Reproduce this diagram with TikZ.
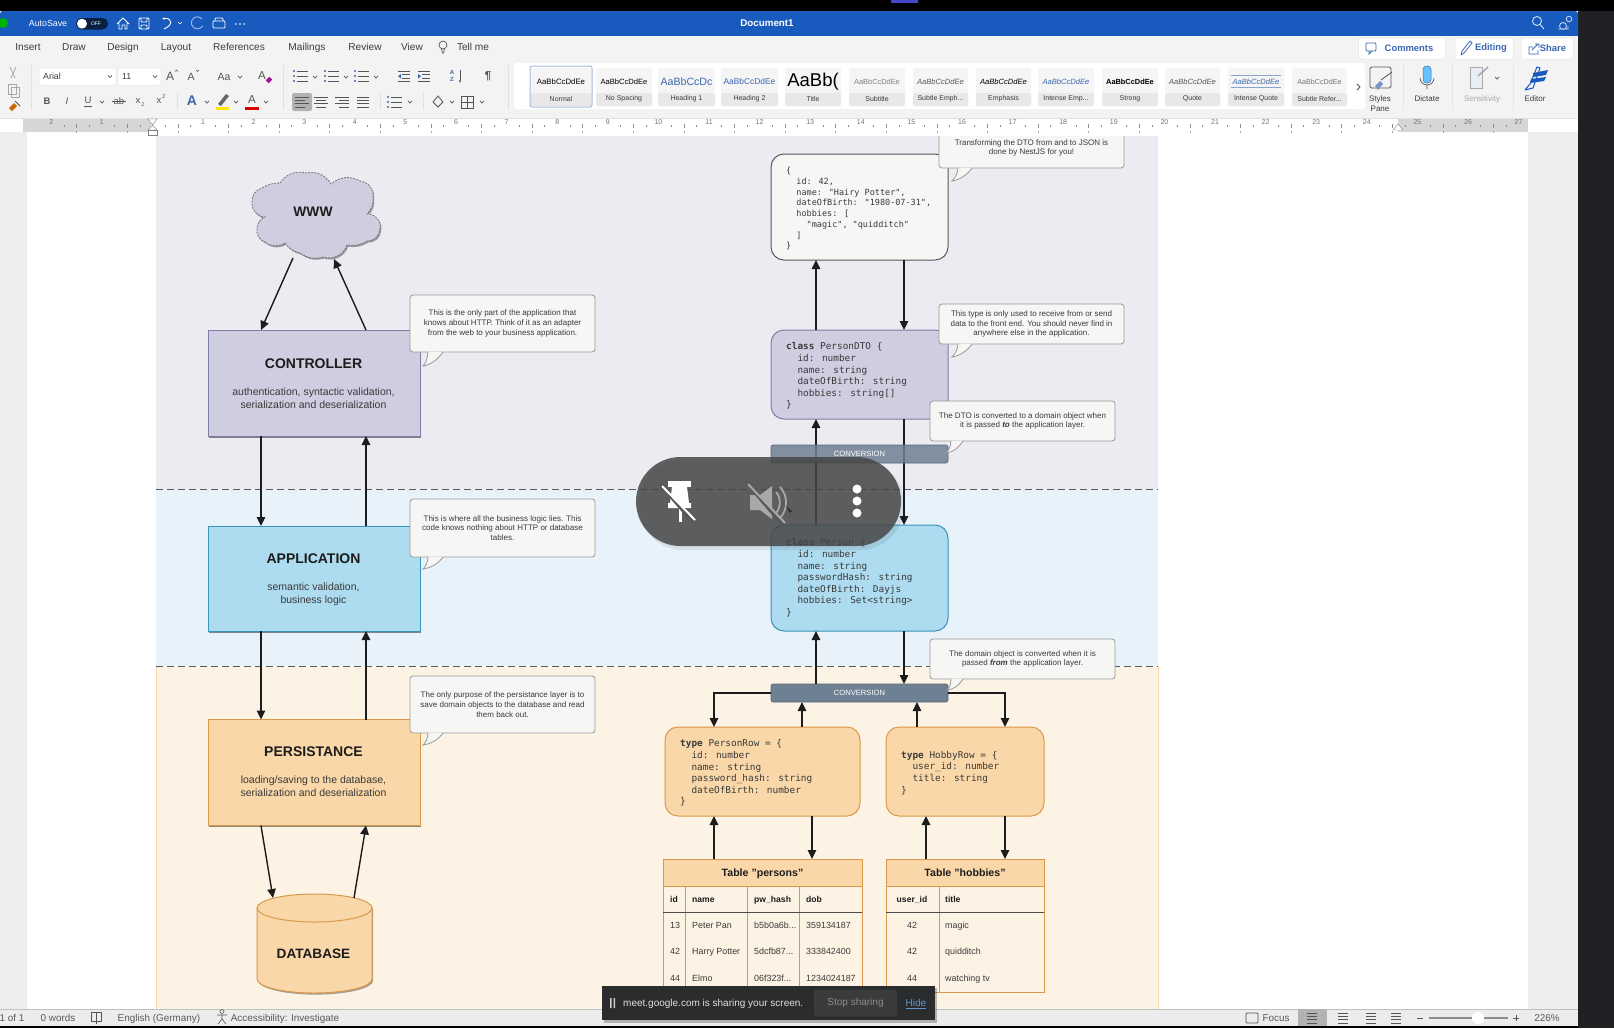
\documentclass[tikz,border=0pt]{standalone}
\usepackage{fontspec}
\setmainfont{Liberation Sans}
\newfontfamily\codefont{DejaVu Sans Mono}
\usetikzlibrary{arrows.meta,shadows,calc}
\definecolor{zoneA}{HTML}{ECEBF1}
\definecolor{zoneB}{HTML}{E7F2FB}
\definecolor{zoneC}{HTML}{FDF3E4}
\definecolor{ctrlF}{HTML}{CFCDE0}
\definecolor{ctrlD}{HTML}{7F7CA8}
\definecolor{appF}{HTML}{ADDBEF}
\definecolor{appD}{HTML}{3A93B8}
\definecolor{perF}{HTML}{F9D7A8}
\definecolor{perD}{HTML}{D9994A}
\definecolor{callF}{HTML}{F6F6F4}
\definecolor{callD}{HTML}{999999}
\definecolor{convF}{HTML}{6E8193}
\definecolor{inkA}{HTML}{1C1C1C}
\definecolor{inkB}{HTML}{3A3A3A}
\definecolor{wordBlue}{HTML}{185ABD}
\definecolor{ribbon}{HTML}{F3F3F3}
\definecolor{uiText}{HTML}{3C3C3C}
\definecolor{uiIcon}{HTML}{555555}
\definecolor{uiDim}{HTML}{A8A8A8}
\definecolor{headBlue}{HTML}{3C68B0}
\definecolor{sideGrey}{HTML}{EDEEEE}
\definecolor{barGrey}{HTML}{ECECEC}
\definecolor{darkSide}{HTML}{202124}
\definecolor{linkBlue}{HTML}{2F6FC4}
\definecolor{topPurple}{HTML}{4644C8}
\definecolor{toastF}{HTML}{2A2C2D}
\definecolor{toastB}{HTML}{393B3C}
\newcommand\fs[2]{\fontsize{#1}{#2}\selectfont}
\newcommand\ind{\hspace*{11.32pt}}
\newcommand\indj{\hspace*{10.24pt}}
% chevron under-arrow at x y
\newcommand\chev[2]{\draw[uiIcon,line width=.7pt] (#1-2,#2-1.2) -- (#1,#2+1.2) -- (#1+2,#2-1.2);}
% list icon
\newcommand\listic[3]{\foreach \k in {-5,0,5}{\fill[#3] (#1-7,#2+\k) circle (1.2);\draw[uiIcon,line width=.8pt] (#1-4,#2+\k) -- (#1+7,#2+\k);}}
% four-line paragraph icon: x y half-widths
\newcommand\alignic[3]{\foreach \k/\w in {-5/#3,-1.7/#3,1.7/#3,5/#3}{\draw[uiIcon,line width=.8pt] (#1-\w,#2+\k) -- (#1+\w,#2+\k);}}
% style gallery tile
\newcommand\stile[6]{%
  \fill[white!96!black,rounded corners=2pt] (#2,68) rectangle (#3,106);
  \fill[black!9,rounded corners=2pt] (#2,93) rectangle (#3,106);
  \begin{scope}\clip (#2+1,68) rectangle (#3-1,93);
  \node[uitext,anchor=center] (#1s) at ({(#2+#3)/2},81.5) {#4#5};
  \end{scope}
  \node[uitext,font=\fs{7}{8}] (#1l) at ({(#2+#3)/2},98.5) {#6};}
\tikzset{
 layerbox/.style={rectangle,inner sep=0,outer sep=0,line width=1pt,drop shadow={shadow xshift=1.2pt,shadow yshift=-1.6pt,opacity=.45,fill=black}},
 codebox/.style={rectangle,rounded corners=13pt,inner sep=0,outer sep=0,line width=1pt},
 callbox/.style={rectangle,rounded corners=3pt,inner sep=0,outer sep=0,line width=.8pt,draw=callD,fill=callF,text=inkB,align=center,font=\fs{8}{9.7},execute at begin node={\rule{0pt}{9.5pt}}},
 convbox/.style={rectangle,rounded corners=2pt,inner sep=0,outer sep=0,draw=convF!80!black,line width=.6pt,fill=convF,text=white,font=\fs{7.6}{9},minimum width=177pt,minimum height=18pt},
 title/.style={font=\bfseries\fs{14}{16},text=inkA,inner sep=0},
 sub/.style={font=\fs{10.5}{13.2},text=inkB,align=center,inner sep=0},
 codetxt/.style={anchor=north west,inner sep=0,align=left,text=inkB,font=\codefont\fs{9.4}{11.6}},
 arr/.style={draw=inkA,line width=1.4pt,-{Triangle[length=9pt,width=8.5pt]}},
 cellb/.style={inner sep=0,yshift=-.8pt,font=\bfseries\fs{8.6}{10},text=inkA,text height=6.5pt,text depth=1.8pt},
 cell/.style={inner sep=0,yshift=-.8pt,font=\fs{8.9}{10},text=inkB,text height=6.5pt,text depth=1.8pt},
 uitext/.style={inner sep=0,text=uiText},
 tabtext/.style={inner sep=0,text=uiText,font=\fs{10.1}{11},text height=7.5pt,text depth=2pt},
 stat/.style={inner sep=0,text=uiText!85,font=\fs{9.9}{11},text height=7.5pt,text depth=2pt},
 rulenum/.style={inner sep=0,text=black!55,font=\fs{7}{8}},
 pillbtn/.style={rectangle,inner sep=0,rounded corners=2pt,fill=white,draw=black!10,line width=.5pt},
 glyph/.style={inner sep=0,text=uiIcon},
}
\begin{document}
\begin{tikzpicture}[x=1pt,y=-1pt]
\useasboundingbox (0,0) rectangle (1614,1028);
% page and zones
\fill[sideGrey] (0,0) rectangle (1578,1028);
\fill[white] (27,132) rectangle (1528,1010);
\fill[zoneA] (156,132) rectangle (1158,489);
\fill[zoneB] (156,489) rectangle (1158,666);
\fill[zoneC] (156,666) rectangle (1158,1010);
\draw[perF,line width=.5pt] (156,666) -- (156,1010) (1158,666) -- (1158,1010);
\draw[black!65,line width=1pt,dash pattern=on 7pt off 4pt] (156,489) -- (1158,489);
\draw[black!65,line width=1pt,dash pattern=on 7pt off 4pt] (156,666) -- (1158,666);
% connector x positions
\coordinate (lx) at (261,0);
\coordinate (rx) at (366,0);
\coordinate (ax) at (816,0);
\coordinate (bx) at (904,0);
\coordinate (plo) at (714,0);
\coordinate (pup) at (802,0);
\coordinate (hup) at (917,0);
\coordinate (hlo) at (1005,0);
\coordinate (tpd) at (812,0);
\coordinate (thu) at (926,0);
\coordinate (wwwOut) at (293,258);
\coordinate (wwwIn) at (334,259);
\coordinate (dbIn) at (273,898);
\coordinate (dbOut) at (354,898);
% cloud
\path[fill=ctrlF,draw=black!55,line width=.8pt,dash pattern=on 2pt off 1.2pt,drop shadow={shadow xshift=1.2pt,shadow yshift=-1.6pt,opacity=.35,fill=black}]
 (280,183) to[bend left=35] (306,173) to[bend left=35] (331,184) to[bend left=35] (360,181)
 to[bend left=45] (373,197) to[bend left=25] (367,214) to[bend left=55] (380,229)
 to[bend left=45] (367,241) to[bend left=20] (347,245) to[bend left=45] (323,257)
 to[bend left=25] (300,253) to[bend left=20] (285,243) to[bend left=35] (265,242)
 to[bend left=40] (257,228) to[bend left=30] (265,217) to[bend left=45] (252,203)
 to[bend left=40] (262,188) to[bend left=15] cycle;
\node[inner sep=0,font=\bfseries\fs{13.8}{16},text=inkA] (www) at (313,211.5) {WWW};
% layer boxes
\node[layerbox,fill=ctrlF,draw=ctrlD,minimum width=212pt,minimum height=106pt] (ctrl) at (314,383) {};
\node[title] (ctrlT) at (313.5,364) {CONTROLLER};
\node[sub] (ctrlS) at (313.5,398.5) {authentication, syntactic validation,\\serialization and deserialization};
\node[layerbox,fill=appF,draw=appD,minimum width=212pt,minimum height=105pt] (app) at (314,578.5) {};
\node[title] (appT) at (313.5,559) {APPLICATION};
\node[sub] (appS) at (313.5,594) {semantic validation,\\business logic};
\node[layerbox,fill=perF,draw=perD,minimum width=212pt,minimum height=106pt] (pers) at (314,772.5) {};
\node[title] (persT) at (313.5,752) {PERSISTANCE};
\node[sub] (persS) at (313.5,786.5) {loading/saving to the database,\\serialization and deserialization};
% database
\path[fill=perF,draw=perD,line width=1pt,drop shadow={shadow xshift=1.2pt,shadow yshift=-1.6pt,opacity=.35,fill=black}]
 (257,908) arc[start angle=180,end angle=0,x radius=57.5pt,y radius=14pt] -- (372,979)
 arc[start angle=0,end angle=-180,x radius=57.5pt,y radius=14pt] -- cycle;
\draw[perD,line width=1pt] (257,908) arc[start angle=180,end angle=360,x radius=57.5pt,y radius=14pt];
\node[inner sep=0,font=\bfseries\fs{13.6}{15},text=inkA] (db) at (313.5,954) {DATABASE};
% left connectors
\draw[arr] (wwwOut) -- (ctrl.north -| lx);
\draw[arr] (ctrl.north -| rx) -- (wwwIn);
\draw[arr] (ctrl.south -| lx) -- (app.north -| lx);
\draw[arr] (app.north -| rx) -- (ctrl.south -| rx);
\draw[arr] (app.south -| lx) -- (pers.north -| lx);
\draw[arr] (pers.north -| rx) -- (app.south -| rx);
\draw[arr] (pers.south -| lx) -- (dbIn);
\draw[arr] (dbOut) -- (pers.south -| rx);
% code boxes
\node[codebox,fill=callF,draw=black!65,minimum width=177pt,minimum height=106pt] (json) at (859.5,207) {};
\node[codetxt,font=\codefont\fs{8.5}{10.75}] (jsonT) at (786,167) {\{\\\indj id: 42,\\\indj name: "Hairy Potter",\\\indj dateOfBirth: "1980-07-31",\\\indj hobbies: [\\\indj\indj "magic", "quidditch"\\\indj ]\\\}};
\node[codebox,fill=ctrlF,draw=ctrlD,minimum width=177pt,minimum height=89pt] (dto) at (859.5,374.5) {};
\node[codetxt] (dtoT) at (786,342.5) {\textbf{class} PersonDTO \{\\\ind id: number\\\ind name: string\\\ind dateOfBirth: string\\\ind hobbies: string[]\\\}};
\node[codebox,fill=appF,draw=appD,minimum width=177pt,minimum height=106pt] (person) at (859.5,578) {};
\node[codetxt] (personT) at (786,538.5) {\textbf{class} Person \{\\\ind id: number\\\ind name: string\\\ind passwordHash: string\\\ind dateOfBirth: Dayjs\\\ind hobbies: Set<string>\\\}};
\node[codebox,fill=perF,draw=perD,minimum width=195pt,minimum height=89pt] (prow) at (762.5,771.5) {};
\node[codetxt] (prowT) at (680,739.5) {\textbf{type} PersonRow = \{\\\ind id: number\\\ind name: string\\\ind password\_hash: string\\\ind dateOfBirth: number\\\}};
\node[codebox,fill=perF,draw=perD,minimum width=158pt,minimum height=89pt] (hrow) at (965,771.5) {};
\node[codetxt] (hrowT) at (901,751) {\textbf{type} HobbyRow = \{\\\ind user\_id: number\\\ind title: string\\\}};
% conversion bar (lower)
\node[convbox] (conv2) at (859.5,693) {CONVERSION};
% tables
\node[rectangle,inner sep=0,outer sep=0,draw=perD,line width=1pt,minimum width=199pt,minimum height=133pt] (tp) at (762.5,925.5) {};
\node[rectangle,inner sep=0,outer sep=0,draw=perD,fill=perF,line width=1pt,minimum width=199pt,minimum height=27pt,font=\bfseries\fs{10.6}{12},text=inkA,text height=9.5pt,text depth=2.2pt] (tpH) at (762.5,872.5) {Table "persons"};
\node[rectangle,inner sep=0,outer sep=0,draw=perD,line width=1pt,minimum width=158pt,minimum height=133pt] (th) at (965,925.5) {};
\node[rectangle,inner sep=0,outer sep=0,draw=perD,fill=perF,line width=1pt,minimum width=158pt,minimum height=27pt,font=\bfseries\fs{10.6}{12},text=inkA,text height=9.5pt,text depth=2.2pt] (thH) at (965,872.5) {Table "hobbies"};
\draw[perD,line width=1pt] (685,886) -- (685,992) (747,886) -- (747,992) (799,886) -- (799,992) (939,886) -- (939,992);
\draw[black!70,line width=.9pt] (663,912) -- (862,912) (886,912) -- (1044,912);
\node[cellb] (c01) at (674,899) {id};
\node[cellb,anchor=west] (c02) at (692,899) {name};
\node[cellb,anchor=west] (c03) at (754,899) {pw\_hash};
\node[cellb,anchor=west] (c04) at (806,899) {dob};
\node[cell] (c11) at (675,925) {13};
\node[cell,anchor=west] (c12) at (692,925) {Peter Pan};
\node[cell,anchor=west] (c13) at (754,925) {b5b0a6b...};
\node[cell,anchor=west] (c14) at (806,925) {359134187};
\node[cell] (c21) at (675,951) {42};
\node[cell,anchor=west] (c22) at (692,951) {Harry Potter};
\node[cell,anchor=west] (c23) at (754,951) {5dcfb87...};
\node[cell,anchor=west] (c24) at (806,951) {333842400};
\node[cell] (c31) at (675,978) {44};
\node[cell,anchor=west] (c32) at (692,978) {Elmo};
\node[cell,anchor=west] (c33) at (754,978) {06f323f...};
\node[cell,anchor=west] (c34) at (806,978) {1234024187};
\node[cellb] (d01) at (912,899) {user\_id};
\node[cellb,anchor=west] (d02) at (945,899) {title};
\node[cell] (d11) at (912,925) {42};
\node[cell,anchor=west] (d12) at (945,925) {magic};
\node[cell] (d21) at (912,951) {42};
\node[cell,anchor=west] (d22) at (945,951) {quidditch};
\node[cell] (d31) at (912,978) {44};
\node[cell,anchor=west] (d32) at (945,978) {watching tv};
% right connectors
\draw[arr] (dto.north -| ax) -- (json.south -| ax);
\draw[arr] (json.south -| bx) -- (dto.north -| bx);
\draw[arr] (person.north -| ax) -- (dto.south -| ax);
\draw[arr] (dto.south -| bx) -- (person.north -| bx);
\draw[arr] (conv2.north -| ax) -- (person.south -| ax);
\draw[arr] (person.south -| bx) -- (conv2.north -| bx);
\draw[arr] (conv2.west) -| (prow.north -| plo);
\draw[arr] (conv2.east) -| (hrow.north -| hlo);
\draw[arr] (prow.north -| pup) -- (conv2.south -| pup);
\draw[arr] (hrow.north -| hup) -- (conv2.south -| hup);
\draw[arr] (tpH.north -| plo) -- (prow.south -| plo);
\draw[arr] (prow.south -| tpd) -- (tpH.north -| tpd);
\draw[arr] (thH.north -| thu) -- (hrow.south -| thu);
\draw[arr] (hrow.south -| hlo) -- (thH.north -| hlo);
% upper conversion bar: translucent, the connectors show through it
\node[convbox,fill opacity=.85,text opacity=1] (conv1) at (859.5,454) {CONVERSION};
% callouts
\newcommand\tail[5]{%
 \fill[callF] (#1,#2-.5) .. controls (#1-.5,#2+6) and (#3+3,#4-3) .. (#3,#4) .. controls (#3+8,#4-1) and (#5-4,#2+6) .. (#5,#2-.5) -- cycle;
 \draw[callD,line width=.8pt] (#1,#2) .. controls (#1-.5,#2+6) and (#3+3,#4-3) .. (#3,#4) .. controls (#3+8,#4-1) and (#5-4,#2+6) .. (#5,#2);}
\node[callbox,minimum width=185pt,minimum height=57pt] (note1) at (502.5,323.5) {This is the only part of the application that\\knows about HTTP. Think of it as an adapter\\from the web to your business application.};
\tail{428}{352}{423}{366}{443}
\node[callbox,minimum width=185pt,minimum height=58pt] (note2) at (502.5,528) {This is where all the business logic lies. This\\code knows nothing about HTTP or database\\tables.};
\tail{428}{557}{423}{569}{443}
\node[callbox,minimum width=185pt,minimum height=57pt] (note3) at (502.5,704.5) {The only purpose of the persistance layer is to\\save domain objects to the database and read\\them back out.};
\tail{428}{733}{423}{745}{443}
\node[callbox,minimum width=185pt,minimum height=40pt] (note4) at (1031.5,148) {Transforming the DTO from and to JSON is\\done by NestJS for you!};
\tail{958}{168}{952}{181}{972}
\node[callbox,minimum width=185pt,minimum height=40pt] (note5) at (1031.5,324) {This type is only used to receive from or send\\data to the front end. You should never find in\\anywhere else in the application.};
\tail{958}{344}{952}{357}{972}
\node[callbox,minimum width=185pt,minimum height=40pt] (note6) at (1022.5,421) {The DTO is converted to a domain object when\\it is passed \textbf{\textit{to}} the application layer.};
\tail{951}{441}{946}{453}{963}
\node[callbox,minimum width=185pt,minimum height=40pt] (note7) at (1022.5,659) {The domain object is converted when it is\\passed \textbf{\textit{from}} the application layer.};
\tail{951}{679}{947}{690}{963}
% floating control pill
\fill[black,opacity=.08,rounded corners=44pt] (639,460) rectangle (904,550);
\fill[black!72,opacity=.85,rounded corners=44.5pt] (636,457) rectangle (901,546);
\fill[white] (668,481) rectangle (691,487);
\fill[white] (672,487) -- (687,487) -- (689,503) -- (691,503) -- (691,508) -- (668,508) -- (668,503) -- (670,503) -- cycle;
\fill[white] (678.5,508) rectangle (681.5,522);
\draw[black!66,line width=3.5pt] (660,484) -- (693,522);
\draw[white,line width=2pt] (662,486) -- (695,520);
\fill[uiDim] (750,495) rectangle (760,510) (760,495) -- (772,486) -- (772,519) -- (760,510) -- cycle;
\draw[uiDim,line width=1.8pt] (776,492) .. controls (781,497) and (781,508) .. (776,513) (780,487) .. controls (788,495) and (788,510) .. (780,518);
\draw[black!66,line width=3.5pt] (746,482) -- (783,525);
\draw[uiDim,line width=2pt] (748,484) -- (785,523);
\fill[black!80] (786,506) -- (793,512) -- (789,512) -- (791,516) -- cycle;
\fill[white] (857,489) circle (4.5) (857,501) circle (4.5) (857,513) circle (4.5);
% window chrome
\fill[black] (0,0) rectangle (1614,11);
\fill[topPurple] (891,0) rectangle (918,3);
\fill[darkSide] (1578,11) rectangle (1614,1028);
\fill[wordBlue,rounded corners=3pt] (0,11) rectangle (1578,42);
\fill[ribbon] (0,36) rectangle (1578,118);
% title bar
\fill[green!70!black] (3,23) circle (5);
\node[inner sep=0,text=white,font=\fs{8.8}{10}] (autosave) at (48,23.5) {AutoSave};
\fill[black!65!wordBlue,rounded corners=5.5pt] (76,18) rectangle (108,29.5);
\fill[white] (82,23.7) circle (5);
\node[inner sep=0,text=white,font=\fs{5}{6}] (off) at (96,23.7) {OFF};
\draw[white,line width=.8pt,line join=round] (117,24) -- (123,18) -- (129,24) (119,23) -- (119,29) -- (122,29) -- (122,25) -- (125,25) -- (125,29) -- (127,29) -- (127,23);
\draw[white,line width=.8pt,rounded corners=1pt] (139,18) rectangle (149,29) (141,18) -- (141,22) -- (147,22) -- (147,18) (141,29) -- (141,25) -- (147,25) -- (147,29);
\draw[white,line width=.9pt,-{Stealth[length=3pt]}] (164,29) .. controls (174,25) and (172,17) .. (162,19);
\draw[white,line width=.6pt] (178,22) -- (180,24) -- (182,22);
\draw[white!60!wordBlue,line width=.9pt] (202,19) arc[start angle=40,end angle=330,radius=6pt];
\draw[white,line width=.9pt,rounded corners=1pt] (213,21) rectangle (225,28) (215,21) -- (215,18) -- (223,18) -- (223,21);
\fill[white] (236,24) circle (.8) (240,24) circle (.8) (244,24) circle (.8);
\node[inner sep=0,text=white,font=\bfseries\fs{9.8}{11}] (docname) at (767,23) {Document1};
\draw[white!80!wordBlue,line width=.9pt] (1537,21) circle (4.5) (1540.5,25) -- (1544,29);
\draw[white!80!wordBlue,line width=.8pt] (1563,26) circle (3.5) (1569,19) circle (2.8) (1558,29) -- (1568,29) -- (1568,26);
% tabs
\node[tabtext] (t1) at (28,47.5) {Insert};
\node[tabtext] (t2) at (74,47.5) {Draw};
\node[tabtext] (t3) at (123,47.5) {Design};
\node[tabtext] (t4) at (176,47.5) {Layout};
\node[tabtext] (t5) at (239,47.5) {References};
\node[tabtext] (t6) at (307,47.5) {Mailings};
\node[tabtext] (t7) at (365,47.5) {Review};
\node[tabtext] (t8) at (412,47.5) {View};
\draw[uiIcon,line width=.7pt] (443,45) circle (4) (441.5,49) -- (442.5,53) -- (443.5,53) -- (444.5,49);
\node[tabtext] (t9) at (473,47.5) {Tell me};
\node[pillbtn,minimum width=87pt,minimum height=21pt] (bComments) at (1402,48.5) {};
\node[inner sep=0,text=headBlue,font=\bfseries\fs{9.4}{11}] (lComments) at (1409,48.5) {Comments};
\draw[headBlue,line width=.8pt,rounded corners=1pt] (1366,43) rectangle (1376,51);
\draw[headBlue,line width=.8pt] (1369,51) -- (1369,54) -- (1372,51);
\node[pillbtn,minimum width=58pt,minimum height=21pt] (bEdit) at (1484,48.5) {};
\node[inner sep=0,text=headBlue,font=\bfseries\fs{9.4}{11}] (lEdit) at (1491,48.5) {Editing};
\draw[headBlue,line width=.8pt,line join=round] (1461,55) -- (1462,51) -- (1470,41) -- (1472,43) -- (1464,53) -- cycle;
\node[pillbtn,minimum width=52pt,minimum height=21pt] (bShare) at (1547,48.5) {};
\node[inner sep=0,text=headBlue,font=\bfseries\fs{9.4}{11}] (lShare) at (1553,48.5) {Share};
\draw[headBlue,line width=.8pt] (1533,47) -- (1529,47) -- (1529,54) -- (1538,54) -- (1538,50) (1532,50) -- (1538,44) (1535,44) -- (1539,44) -- (1539,48);
% clipboard
\draw[uiDim,line width=.8pt] (10,67) -- (15,78) (16,67) -- (11,78);
\draw[uiDim,line width=.8pt] (8,84) rectangle (16,94);
\draw[uiDim,line width=.8pt] (11,87) rectangle (19,97);
\fill[orange!80!black] (9,108) -- (14,103) -- (17,106) -- (12,111) -- cycle;
\draw[uiIcon,line width=.8pt] (15,101) -- (20,106);
\draw[black!12] (31,65) -- (31,110) (283,65) -- (283,110) (508,65) -- (508,110);
% font row
\node[pillbtn,minimum width=77pt,minimum height=17pt] (bFont) at (77.5,76.5) {};
\node[uitext,anchor=west,font=\fs{8.8}{10}] (lFont) at (43,76.5) {Arial};
\chev{110}{76.5}
\node[pillbtn,minimum width=43pt,minimum height=17pt] (bSize) at (139.5,76.5) {};
\node[uitext,anchor=west,font=\fs{8.8}{10}] (lSize) at (122,76.5) {11};
\chev{155}{76.5}
\node[glyph,font=\fs{12}{13}] (gA1) at (170,76) {A};
\draw[uiIcon,line width=.5pt] (175,71.5) -- (176.5,70) -- (178,71.5);
\node[glyph,font=\fs{10.5}{12}] (gA2) at (191,77) {A};
\draw[uiIcon,line width=.5pt] (196,70) -- (197.5,71.5) -- (199,70);
\node[glyph,font=\fs{10.5}{12}] (gAa) at (224,77) {Aa};
\chev{240}{77}
\node[glyph,font=\fs{11.5}{13}] (gClr) at (262,76) {A};
\fill[magenta!60!blue,rotate around={45:(269,80)}] (266.5,78) rectangle (271.5,82);
\listic{301}{76}{headBlue}\chev{315}{77}
\listic{332}{76}{headBlue}\chev{346}{77}
\listic{362}{76}{headBlue}\chev{376}{77}
\foreach \xx in {404,424}{\draw[uiIcon,line width=.8pt] (\xx-6,71) -- (\xx+6,71) (\xx-2,74.5) -- (\xx+6,74.5) (\xx-2,78) -- (\xx+6,78) (\xx-6,81.5) -- (\xx+6,81.5);}
\fill[headBlue] (398,76.2) -- (401,74) -- (401,78.5) -- cycle (418,74) -- (421,76.2) -- (418,78.5) -- cycle;
\node[inner sep=0,text=headBlue,font=\bfseries\fs{6}{6.5},align=center] (gSort) at (452,76) {A\\Z};
\draw[uiIcon,line width=.8pt,-{Stealth[length=3pt]}] (460,70) -- (460,83);
\node[inner sep=0,text=uiIcon,font=\bfseries\fs{11.5}{13}] (gPil) at (488,76) {¶};
% format row
\node[glyph,font=\bfseries\fs{9.5}{11}] (gB) at (47,101) {B};
\node[glyph,font=\itshape\fs{9.5}{11}] (gI) at (67,101) {I};
\node[glyph,font=\fs{9.5}{11}] (gU) at (88,100) {U};
\draw[uiIcon,line width=.7pt] (84,106.5) -- (92,106.5);
\chev{102}{102}
\node[glyph,font=\fs{9.5}{11}] (gS) at (119,101) {ab};
\draw[uiIcon,line width=.7pt] (112,101) -- (126,101);
\node[glyph,font=\fs{9.5}{11}] (gX1) at (138,101) {x};
\node[inner sep=0,text=headBlue,font=\fs{5.5}{6}] (gX1s) at (143,105) {2};
\node[glyph,font=\fs{9.5}{11}] (gX2) at (159,101) {x};
\node[glyph,font=\fs{5.5}{6}] (gX2s) at (164,97) {2};
\draw[black!12] (177,93) -- (177,110) (380,93) -- (380,110) (423,93) -- (423,110);
\node[inner sep=0,text=headBlue,font=\bfseries\fs{14}{15}] (gAfx) at (192,101) {A};
\chev{207}{102}
\fill[black!60] (218,104) -- (226,94) -- (229,96) -- (221,106) -- cycle;
\fill[yellow!90!orange] (216,106.5) rectangle (229,109.5);
\chev{236}{102}
\node[glyph,font=\fs{11.5}{13}] (gAc) at (252,100) {A};
\fill[red!85!black] (245,106.5) rectangle (259,109.5);
\chev{266}{102}
\fill[black!30,rounded corners=2pt] (292,93) rectangle (312,111);
\foreach \k/\w in {-5/7,-1.7/5,1.7/7,5/5}{\draw[uiIcon,line width=.8pt] (295,102+\k) -- (295+2*\w,102+\k);}
\foreach \k/\w in {-5/7,-1.7/5,1.7/7,5/5}{\draw[uiIcon,line width=.8pt] (321-\w,102+\k) -- (321+\w,102+\k);}
\foreach \k/\w in {-5/7,-1.7/5,1.7/7,5/5}{\draw[uiIcon,line width=.8pt] (349-2*\w,102+\k) -- (349,102+\k);}
\alignic{363}{102}{6}
\listic{395}{102}{headBlue}\chev{410}{102}
\draw[uiIcon,line width=.8pt] (433,102) -- (438,96) -- (443,102) -- (438,107) -- cycle;
\chev{452}{102}
\draw[uiIcon,line width=.7pt] (461,96) rectangle (473,108) (467,96) -- (467,108) (461,102) -- (473,102);
\chev{482}{102}
% style gallery
\fill[white,rounded corners=3pt] (514,63) rectangle (1365,109);
\stile{sa}{530}{592}{\fs{7.8}{9}\color{black}}{AaBbCcDdEe}{Normal}
\draw[headBlue!45,line width=1pt,rounded corners=2pt] (530,66) rectangle (592,107);
\stile{sb}{596}{652}{\fs{7.6}{9}\color{black}}{AaBbCcDdEe}{No Spacing}
\stile{sc}{658}{715}{\fs{10.6}{12}\color{headBlue}}{AaBbCcDc}{Heading 1}
\stile{sd}{721}{778}{\fs{8.4}{10}\color{headBlue}}{AaBbCcDdEe}{Heading 2}
\stile{se}{785}{841}{\fs{18.5}{20}\color{black}}{AaBb(}{Title}
\stile{sf}{849}{905}{\fs{7.4}{9}\color{black!50}}{AaBbCcDdEe}{Subtitle}
\stile{sg}{913}{968}{\itshape\fs{7.6}{9}\color{black!65}}{AaBbCcDdEe}{Subtle Emph...}
\stile{sh}{976}{1031}{\itshape\fs{7.6}{9}\color{black}}{AaBbCcDdEe}{Emphasis}
\stile{si}{1038}{1094}{\itshape\fs{7.6}{9}\color{headBlue}}{AaBbCcDdEe}{Intense Emp...}
\stile{sj}{1102}{1158}{\bfseries\fs{7.4}{9}\color{black}}{AaBbCcDdEe}{Strong}
\stile{sk}{1165}{1220}{\itshape\fs{7.6}{9}\color{black!65}}{AaBbCcDdEe}{Quote}
\stile{sl}{1228}{1284}{\itshape\fs{7.6}{9}\color{headBlue}}{AaBbCcDdEe}{Intense Quote}
\draw[headBlue!60,line width=.7pt] (1231,75) -- (1281,75) (1231,87) -- (1281,87);
\stile{sm}{1292}{1347}{\fs{7.2}{9}\color{black!55}}{AaBbCcDdEe}{Subtle Refer...}
\draw[uiIcon,line width=.8pt] (1357,84) -- (1360,87) -- (1357,90);
% right commands
\draw[black!10] (1403,65) -- (1403,110) (1452,65) -- (1452,110) (1513,65) -- (1513,110);
\draw[uiIcon,line width=.9pt,rounded corners=1.5pt] (1370,67) rectangle (1391,88);
\fill[headBlue!70] (1375,86) -- (1380,81) -- (1383,84) -- (1378,90) -- cycle;
\draw[uiIcon,line width=.8pt] (1381,80) -- (1392,72);
\node[uitext,font=\fs{8}{9.3},align=center] (lStyles) at (1380,103.5) {Styles\\Pane};
\fill[blue!40!cyan!60!white,draw=headBlue,line width=.5pt,rounded corners=3.5pt] (1423,66) rectangle (1431,83);
\draw[uiIcon,line width=.7pt] (1420,78) arc[start angle=180,end angle=360,radius=7pt] (1427,85) -- (1427,89);
\node[uitext,font=\fs{8}{9.3}] (lDict) at (1427,99) {Dictate};
\fill[headBlue!12,draw=uiDim,line width=.5pt] (1470,67) -- (1482,67) -- (1482,88) -- (1470,88) -- cycle;
\draw[uiDim,line width=1.5pt] (1478,76) -- (1488,67);
\chev{1497}{78}
\node[inner sep=0,text=uiDim,font=\fs{8}{9.3}] (lSens) at (1482,99) {Sensitivity};
\fill[wordBlue] (1533,73) -- (1548,70) -- (1546,75) -- (1533,77) -- cycle (1531,79) -- (1546,77) -- (1544,81) -- (1530,83) -- cycle;
\draw[wordBlue,line width=1pt,line join=round] (1525,90) -- (1530,84) -- (1537,67) -- (1540,68) -- (1533,88) -- cycle;
\node[uitext,font=\fs{8}{9.3}] (lEditor) at (1535,99) {Editor};
% ruler
\fill[white] (0,118) rectangle (1578,135.5);
\fill[black!16] (23,118) rectangle (151,132);
\fill[black!16] (1398,118) rectangle (1528,132);
\fill[sideGrey] (0,132) rectangle (27,136);
\fill[sideGrey] (1528,132) rectangle (1578,136);
\draw[black!12,line width=.4pt] (0,118) -- (1578,118);
\foreach \n in {1,...,27}{\node[rulenum] (rp\n) at ({152.4+50.6*\n},122.5) {\n};}
\node[rulenum] (rm1) at (101.8,122.5) {1};
\node[rulenum] (rm2) at (51.2,122.5) {2};
\foreach \n in {-2,...,26}{
 \draw[black!45,line width=.4pt] ({152.4+50.6*\n+12.65},125) -- ({152.4+50.6*\n+12.65},127);
 \draw[black!45,line width=.4pt] ({152.4+50.6*\n+37.95},125) -- ({152.4+50.6*\n+37.95},127);
 \draw[black!45,line width=.4pt] ({152.4+50.6*\n+25.3},124) -- ({152.4+50.6*\n+25.3},128);
 \draw[black!35,line width=.4pt] ({152.4+50.6*\n+25.3},131) -- ({152.4+50.6*\n+25.3},133);}
\fill[white,draw=black!50,line width=.4pt] (148,119) -- (157,119) -- (152.5,125) -- cycle;
\fill[white,draw=black!50,line width=.4pt] (148,130) -- (152.5,125) -- (157,130) -- cycle;
\fill[white,draw=black!50,line width=.4pt] (148,130) rectangle (157,135);
\fill[white,draw=black!50,line width=.4pt] (1393,130) -- (1398,124) -- (1403,130) -- cycle;
% status bar
\fill[barGrey] (0,1009) rectangle (1578,1026);
\draw[black!25,line width=.5pt] (0,1009) -- (1578,1009);
\fill[black] (0,1026) rectangle (1578,1028);
\node[stat] (s1) at (12,1018.5) {1 of 1};
\node[stat] (s2) at (58,1018.5) {0 words};
\draw[uiIcon,line width=.6pt] (91,1012) rectangle (101,1021) (96,1012) -- (96,1024);
\node[stat] (s3) at (159,1018.5) {English (Germany)};
\draw[uiIcon,line width=.6pt] (222,1011.5) circle (2) (217,1015) -- (227,1015) (222,1015) -- (222,1019) -- (218,1024) (222,1019) -- (226,1024);
\node[stat] (s4) at (285,1018.5) {Accessibility: Investigate};
\draw[uiIcon,line width=.8pt,rounded corners=1pt] (1246,1013) rectangle (1258,1023);
\node[stat] (s5) at (1276,1018.5) {Focus};
\fill[black!30] (1298,1009) rectangle (1327,1026);
\alignic{1312}{1018}{5}
\alignic{1343}{1018}{5}
\alignic{1371}{1018}{5}
\alignic{1396}{1018}{5}
\draw[uiIcon,line width=1pt] (1417,1018) -- (1423,1018) (1513,1018) -- (1519,1018) (1516,1015) -- (1516,1021);
\draw[black!45,line width=1.2pt] (1429,1018) -- (1508,1018);
\fill[white] (1478,1018) circle (6);
\node[stat] (s6) at (1547,1018.5) {226\%};
% screen sharing toast
\fill[black,opacity=.25] (604,988) rectangle (937,1023);
\fill[toastF] (602,986) rectangle (935,1020);
\fill[white!80!black] (610,998) rectangle (611.5,1008) (613.5,998) rectangle (615,1008);
\node[inner sep=0,anchor=west,text=white!88!black,font=\fs{10}{11},text height=7.5pt,text depth=2pt] (tMsg) at (623,1003.5) {meet.google.com is sharing your screen.};
\node[rectangle,rounded corners=3pt,fill=toastB,inner sep=0,minimum width=83pt,minimum height=27pt,text=white!55!black,font=\fs{10}{11},text height=7.5pt,text depth=2pt] (tStop) at (855.5,1003) {Stop sharing};
\node[inner sep=0,text=linkBlue!75!white,font=\fs{10}{11},text height=7.5pt,text depth=2pt] (tHide) at (916,1003.5) {\underline{Hide}};
\end{tikzpicture}
\end{document}
